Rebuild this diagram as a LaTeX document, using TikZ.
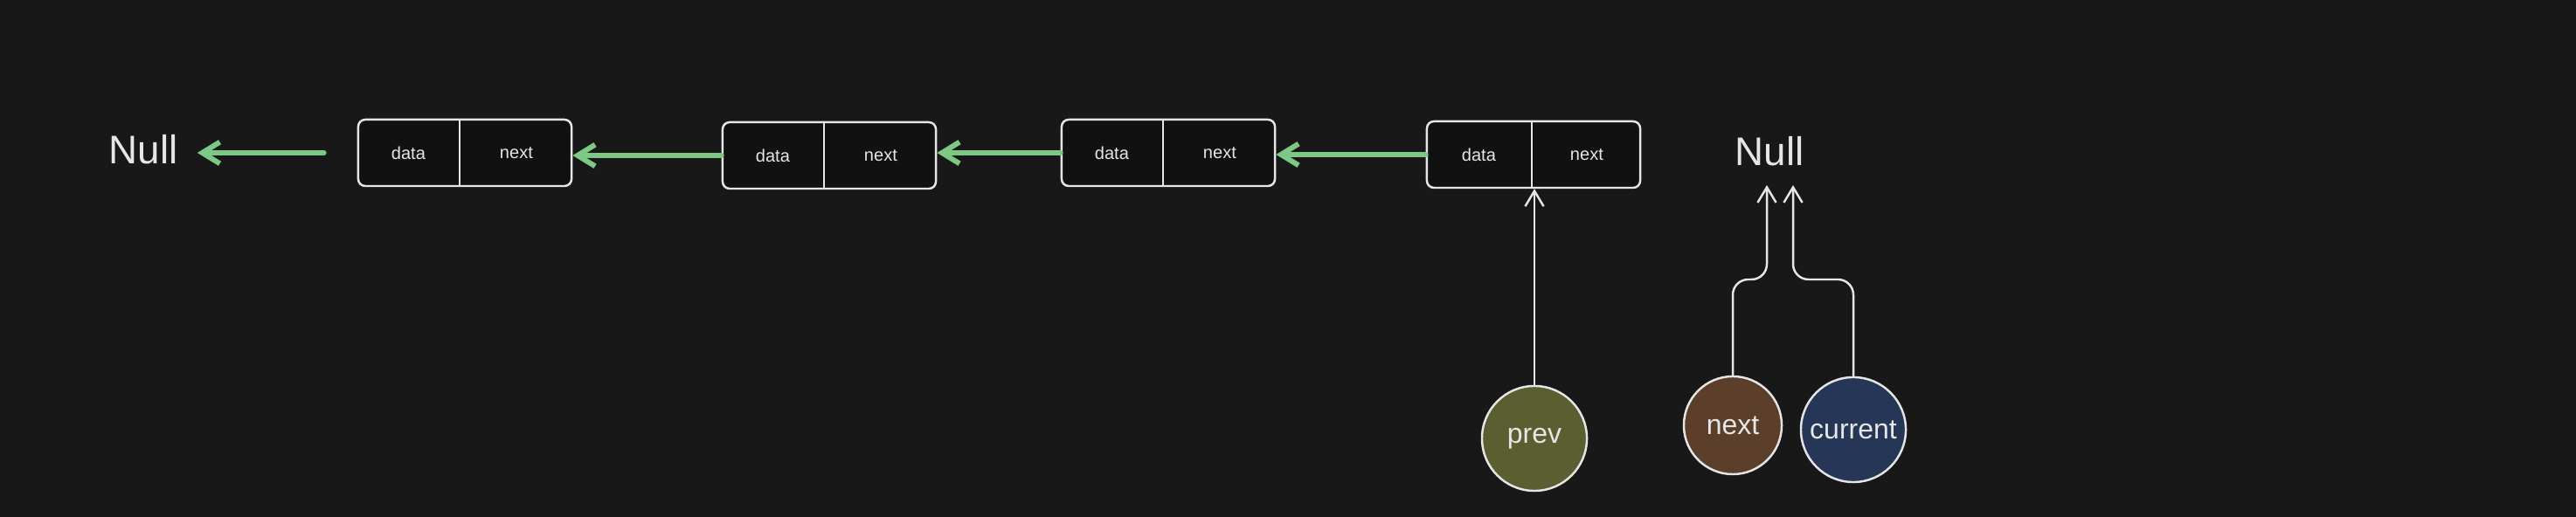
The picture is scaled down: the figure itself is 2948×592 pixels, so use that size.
\documentclass[tikz,border=0pt]{standalone}
\usepackage{fontspec}
\setmainfont{Liberation Sans}
\usetikzlibrary{positioning,arrows.meta}
\definecolor{bg}{HTML}{181818}
\definecolor{cellbg}{HTML}{111111}
\definecolor{text}{HTML}{E6E6E6}
\definecolor{link}{HTML}{7CC884}
\definecolor{prevbg}{HTML}{5B5E30}
\definecolor{nextbg}{HTML}{5C3F2A}
\definecolor{curbg}{HTML}{253656}
\tikzset{
  box/.style={draw=text, fill=cellbg, line width=0.7pt, rounded corners=2.3pt, minimum width=2.44cm, minimum height=0.76cm, inner sep=0pt},
  cell/.style={text=text, font=\fontsize{5.7}{7}\selectfont, minimum height=0.76cm, inner sep=0pt},
  datacell/.style={cell, minimum width=1.16cm},
  nextcell/.style={cell, minimum width=1.28cm},
  sep/.style={draw=text, line width=0.7pt},
  link/.style={draw=link, line width=1.7pt, line cap=round, -{Straight Barb[length=5.7pt,width=7pt]}},
  ptr/.style={draw=text, line width=0.7pt, line cap=round, rounded corners=5pt, -{Straight Barb[length=5pt,width=6pt]}},
  nul/.style={text=text, font=\fontsize{13}{15}\selectfont},
  var/.style={circle, draw=text, line width=0.7pt, minimum size=1.2cm, inner sep=0pt, text=text, font=\fontsize{9.1}{11}\selectfont},
}
\begin{document}
\begin{tikzpicture}[x=0.01cm, y=-0.01cm]
  \fill[bg] (0,0) rectangle (2948,592);
  \useasboundingbox (0,0) rectangle (2948,592);

  % the reversed part of the list
  \node[nul] (nul1) at (164,171) {Null};
  \node[box] (b1) at (532,175) {};
  \node[datacell, anchor=west] (d1) at (b1.west) {data};
  \node[nextcell, right=0pt of d1] (x1) {next};
  \draw[sep] (d1.north east) -- (d1.south east);

  \node[box] (b2) at (949,178) {};
  \node[datacell, anchor=west] (d2) at (b2.west) {data};
  \node[nextcell, right=0pt of d2] (x2) {next};
  \draw[sep] (d2.north east) -- (d2.south east);

  \node[box] (b3) at (1337,175) {};
  \node[datacell, anchor=west] (d3) at (b3.west) {data};
  \node[nextcell, right=0pt of d3] (x3) {next};
  \draw[sep] (d3.north east) -- (d3.south east);

  \node[box] (b4) at (1755,177) {};
  \node[datacell, anchor=west, minimum width=1.2cm] (d4) at (b4.west) {data};
  \node[nextcell, right=0pt of d4, minimum width=1.24cm] (x4) {next};
  \draw[sep] (d4.north east) -- (d4.south east);

  \draw[link, shorten <=0.38cm, shorten >=0.1cm] (b1.west) -- (nul1.east |- b1.west);
  \draw[link] (b2.west) -- (b1.east |- b2.west);
  \draw[link] (b3.west) -- (b2.east |- b3.west);
  \draw[link] (b4.west) -- (b3.east |- b4.west);

  % pointers
  \node[nul] (nul2) at (2025,173) {Null};
  \coordinate (nxend) at (2022,212);
  \coordinate (curend) at (2052,212);

  \node[var, fill=prevbg] (pv) at (1756,502) {prev};
  \node[var, fill=nextbg, minimum size=1.12cm] (nx) at (1983,487) {next};
  \node[var, fill=curbg] (cur) at (2121,492) {current};

  \draw[ptr] (pv.north) -- (pv.north |- b4.south);
  \draw[ptr] (nx.north) |- (nxend |- 0,320) -- (nxend);
  \draw[ptr] (cur.north) |- (curend |- 0,320) -- (curend);
\end{tikzpicture}
\end{document}
